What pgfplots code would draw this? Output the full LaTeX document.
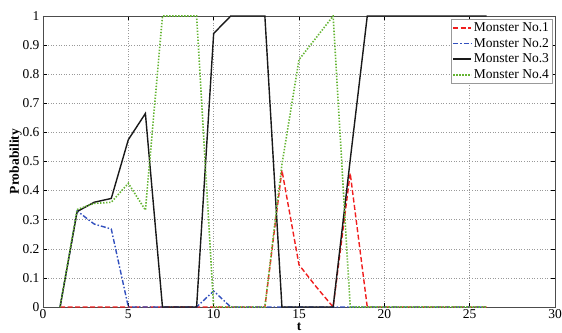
\documentclass[border=0pt]{standalone}
\usepackage{pgfplots}
\pgfplotsset{compat=1.18}
\usepackage{fontspec}
\setmainfont{Liberation Serif}
\definecolor{mred}{RGB}{240,30,30}
\definecolor{mblue}{RGB}{50,80,190}
\definecolor{mgreen}{RGB}{100,180,50}
\begin{document}
\begin{tikzpicture}
\useasboundingbox (-43pt,-25pt) rectangle (519pt,307pt);
\begin{axis}[
  at={(0pt,0pt)}, anchor=south west,
  scale only axis, width=512pt, height=291pt,
  xmin=0, xmax=30, ymin=0, ymax=1,
  xtick={0,5,...,30},
  xticklabels={0,5,10,15,20,25,30},
  ytick={0,0.1,...,1.0},
  yticklabels={0,0.1,0.2,0.3,0.4,0.5,0.6,0.7,0.8,0.9,1},
  tick align=inside, major tick length=4pt,
  tick style={black, line width=0.4pt},
  axis line style={black!70, line width=0.6pt},
  grid=major,
  major grid style={gray!80, line width=0.5pt, dash pattern=on 1pt off 1.6pt},
  /pgf/number format/assume math mode=true,
  tick label style={font=\fontsize{13.5}{15}\selectfont},
  xticklabel style={yshift=1pt},
  xlabel={\textbf{t}}, ylabel={\textbf{Probability}},
  label style={font=\fontsize{13.5}{15}\selectfont},
  xlabel style={at={(axis description cs:0.5,-0.068)}, anchor=center},
  ylabel style={at={(axis description cs:-0.0535,0.5)}, anchor=center},
  legend style={at={(rel axis cs:0.9955,0.99)}, anchor=north east,
    draw=gray!80, line width=0.6pt, font=\fontsize{13.5}{15}\selectfont,
    inner sep=1.5pt, row sep=1.2pt, fill=white},
  legend cell align=left,
  legend image code/.code={\draw[#1] (0pt,0pt) -- (18pt,0pt);},
]
\addplot[mred, line width=1.4pt, dash pattern=on 5pt off 2.5pt] coordinates {
(1,0)(2,0)(3,0)(4,0)(5,0)(6,0)(7,0)(8,0)(9,0)(10,0)(11,0)(12,0)(13,0)
(14,0.47)(15,0.145)(16,0.07)(17,0)(18,0.46)(19,0)(20,0)(21,0)(22,0)(23,0)(24,0)(25,0)(26,0)};
\addlegendentry{Monster No.1}
\addplot[mblue, line width=1.4pt, dash pattern=on 5pt off 2pt on 1.5pt off 2pt] coordinates {
(1,0)(2,0.33)(3,0.285)(4,0.268)(5,0)(6,0)(7,0)(8,0)(9,0)(10,0.055)(11,0)(12,0)(13,0)
(14,0)(15,0)(16,0)(17,0)(18,0)(19,0)(20,0)(21,0)(22,0)(23,0)(24,0)(25,0)(26,0)};
\addlegendentry{Monster No.2}
\addplot[black!90, line width=1.4pt] coordinates {
(1,0)(2,0.328)(3,0.36)(4,0.373)(5,0.575)(6,0.665)(7,0)(8,0)(9,0)(10,0.94)(11,1)(12,1)(13,1)
(14,0)(15,0)(16,0)(17,0)(18,0.505)(19,1)(20,1)(21,1)(22,1)(23,1)(24,1)(25,1)(26,1)};
\addlegendentry{Monster No.3}
\addplot[mgreen, line width=1.6pt, dash pattern=on 1.4pt off 1.6pt] coordinates {
(1,0)(2,0.335)(3,0.356)(4,0.36)(5,0.425)(6,0.333)(7,1)(8,1)(9,1)(10,0)(11,0)(12,0)(13,0)
(14,0.49)(15,0.85)(16,0.925)(17,1)(18,0)(19,0)(20,0)(21,0)(22,0)(23,0)(24,0)(25,0)(26,0)};
\addlegendentry{Monster No.4}
\end{axis}
\end{tikzpicture}
\end{document}
